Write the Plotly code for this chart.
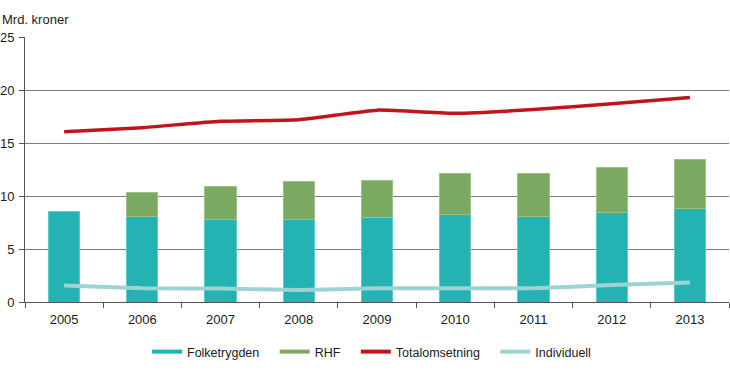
import plotly.graph_objects as go

years = ["2005", "2006", "2007", "2008", "2009", "2010", "2011", "2012", "2013"]
folketrygden = [8.5, 8.1, 7.8, 7.8, 7.95, 8.25, 8.1, 8.4, 8.85]
rhf = [0, 2.25, 3.1, 3.55, 3.55, 3.85, 4.0, 4.3, 4.55]
totalomsetning = [16.05, 16.45, 17.05, 17.2, 18.1, 17.8, 18.15, 18.7, 19.3]
individuell = [1.55, 1.3, 1.27, 1.13, 1.3, 1.3, 1.3, 1.6, 1.85]

c_folk = "#24B2B3"
c_rhf = "#7BA961"
c_tot = "#C0151D"
c_ind = "#9DD4D3"

FONT = "Liberation Sans, Arial, sans-serif"

fig = go.Figure()
fig.add_trace(go.Bar(x=years, y=folketrygden, name="Folketrygden", marker=dict(color=c_folk, line=dict(color="#5CCBCB", width=1)), width=0.4, showlegend=False))
fig.add_trace(go.Bar(x=years, y=rhf, name="RHF", marker=dict(color=c_rhf, line=dict(color="#98C484", width=1)), width=0.4, showlegend=False))
fig.add_trace(go.Scatter(x=years, y=totalomsetning, name="Totalomsetning", mode="lines", line=dict(color=c_tot, width=3.5, shape="spline", smoothing=0.4), showlegend=False))
fig.add_trace(go.Scatter(x=years, y=individuell, name="Individuell", mode="lines", line=dict(color=c_ind, width=4, shape="spline", smoothing=0.4), showlegend=False))

# legend entries (line-style swatches)
for name, col in [("Folketrygden", c_folk), ("RHF", c_rhf), ("Totalomsetning", c_tot), ("Individuell", c_ind)]:
    fig.add_trace(go.Scatter(x=[None], y=[None], mode="lines", name=name + "\u00a0" * 3, line=dict(color=col, width=4), showlegend=True))

fig.update_layout(
    width=730, height=374,
    margin=dict(l=25, r=1, t=37, b=72, autoexpand=False),
    paper_bgcolor="white", plot_bgcolor="white",
    barmode="stack",
    font=dict(family=FONT, size=13, color="#1a1a1a"),
    legend=dict(orientation="h", traceorder="normal", x=0.5, xanchor="center", xref="paper",
                y=(374 - 352) / 374, yref="container", yanchor="middle",
                font=dict(size=12.5), itemwidth=30, tracegroupgap=0),
    annotations=[dict(text="Mrd. kroner", xref="paper", yref="paper", x=0, y=1, xshift=-24, yshift=9, xanchor="left", yanchor="bottom", showarrow=False, font=dict(size=13), borderpad=0)],
)
fig.update_xaxes(type="category", showgrid=False, showline=True, linecolor="#555", linewidth=1, automargin=False,
                 ticks="outside", tickson="boundaries", ticklen=5, tickcolor="#555", range=[-0.5, 8.5],
                 ticklabelstandoff=5)
fig.update_yaxes(range=[0, 25], dtick=5, showgrid=True, gridcolor="#7d7d7d", gridwidth=1, automargin=False,
                 showline=True, linecolor="#555", linewidth=1, ticks="outside", ticklen=5, tickcolor="#555",
                 zeroline=False, ticklabelstandoff=2)

fig.write_html("out.html", config={"displayModeBar": False},
               post_script="document.body.style.margin='0px';")
